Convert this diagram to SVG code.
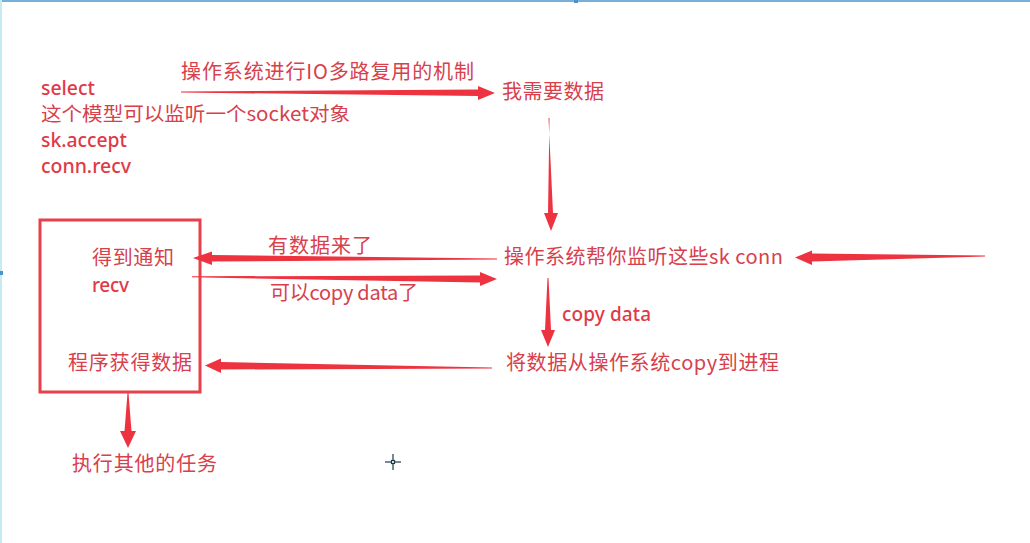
<svg xmlns="http://www.w3.org/2000/svg" width="1030" height="543" viewBox="0 0 1030 543">
<style>
.t{font-family:"Noto Sans CJK SC","Noto Sans",sans-serif;font-size:20px;fill:#d8404c}
.l{font-family:"Noto Sans","Noto Sans CJK SC",sans-serif;font-size:19px;fill:#e03a48;font-weight:500}
.m{font-size:19px}
.a{fill:#ee3340;stroke:none}
.box{fill:none;stroke:#e8404a;stroke-width:3}
</style>
<rect x="0" y="0" width="1030" height="543" fill="#ffffff"/>
<line x1="0" y1="1" x2="1030" y2="1" stroke="#4a95cf" stroke-width="1.5"/>
<line x1="1" y1="0" x2="1" y2="543" stroke="#c6ecf2" stroke-width="2"/>
<rect x="0" y="271" width="3" height="4" fill="#4a95cf"/>
<rect x="574" y="0" width="4" height="3" fill="#4a95cf"/>

<g id="intro">
<text class="l" x="41" y="95" textLength="54" lengthAdjust="spacingAndGlyphs">select</text>
<text class="t m" x="41" y="121" textLength="309" lengthAdjust="spacingAndGlyphs">这个模型可以监听一个socket对象</text>
<text class="l" x="41" y="147" textLength="86" lengthAdjust="spacingAndGlyphs">sk.accept</text>
<text class="l" x="41" y="173" textLength="90" lengthAdjust="spacingAndGlyphs">conn.recv</text>
</g>
<g id="need-data"><text class="t" x="502" y="99" textLength="102">我需要数据</text></g>
<g id="process-box">
<rect class="box" x="40" y="220" width="160" height="172"/>
<text class="t" x="92" y="265" textLength="82">得到通知</text>
<text class="l" x="92" y="292" textLength="37">recv</text>
<text class="t" x="68" y="370" textLength="124">程序获得数据</text>
</g>
<g id="os-monitor"><text class="t" x="504" y="264" textLength="279">操作系统帮你监听这些sk conn</text></g>
<g id="os-copy"><text class="t" x="506" y="370" textLength="273">将数据从操作系统copy到进程</text></g>
<g id="other-tasks"><text class="t" x="72" y="471" textLength="145">执行其他的任务</text></g>

<g id="connectors">
<path class="a" d="M181,91.5 L478,89.5 L478,86 L495,93 L478,100 L478,96 L181,92.5 Z"/>
<text class="t" x="181" y="79" textLength="293">操作系统进行IO多路复用的机制</text>
<path class="a" d="M548.5,118 L553,213 L558,213 L551,231 L544,213 L548,213 L549.5,118 Z"/>
<path class="a" d="M497,258.5 L212,255 L212,251.5 L193,258 L212,265 L212,261.5 L497,259.5 Z"/>
<text class="t" x="268" y="253" textLength="104">有数据来了</text>
<path class="a" d="M192,276.3 L480,275.5 L480,272 L497,279 L480,286 L480,282.5 L192,277.3 Z"/>
<text class="t" x="270" y="300" textLength="148">可以copy data了</text>
<path class="a" d="M985,255.5 L812,253.5 L812,250.5 L795,257.5 L812,265 L812,261.5 L985,256.5 Z"/>
<path class="a" d="M547.5,278 L545,330 L541,330 L548,347 L555,330 L551,330 L548.5,278 Z"/>
<text class="l" x="562" y="321" textLength="89">copy data</text>
<path class="a" d="M492,367.5 L221,362 L221,358.5 L205,365.5 L221,373 L221,369.5 L492,368.5 Z"/>
<path class="a" d="M127.5,393 L124.5,431 L120,431 L128,448 L136,431 L131.5,431 L128.5,393 Z"/>
</g>
<g id="cursor" stroke="#1d3b45" stroke-width="1.2" fill="none">
<line x1="385" y1="462" x2="401" y2="462"/>
<line x1="393" y1="454" x2="393" y2="470"/>
<rect x="391.5" y="460.5" width="3" height="3" fill="#ffffff"/>
</g>
</svg>
